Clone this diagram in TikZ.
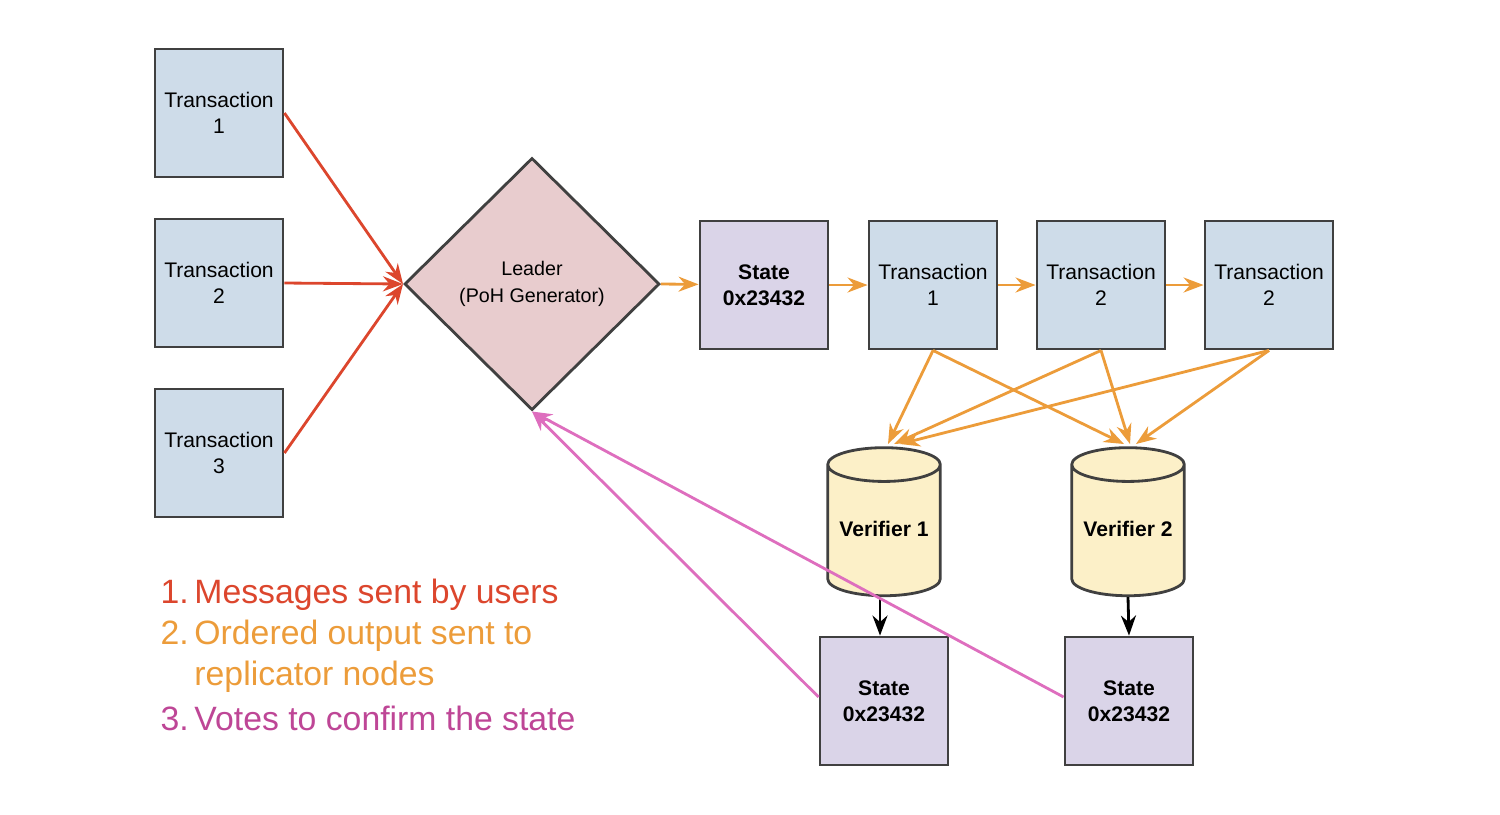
\documentclass[tikz,border=0pt]{standalone}
\usepackage{fontspec}
\setmainfont{Liberation Sans}
\usetikzlibrary{shapes.geometric,arrows.meta,positioning}
\definecolor{txblue}{RGB}{206,220,233}
\definecolor{stpurple}{RGB}{218,212,232}
\definecolor{leadpink}{RGB}{232,204,206}
\definecolor{verifyellow}{RGB}{252,240,200}
\definecolor{redline}{RGB}{220,70,45}
\definecolor{orangeline}{RGB}{236,156,58}
\definecolor{pinkline}{RGB}{222,110,190}
\definecolor{votepink}{RGB}{190,70,150}
\tikzset{
    box/.style={draw=black!75, thick, minimum size=1.28cm, inner sep=0pt, align=center, font=\fontsize{6}{7.5}\selectfont},
    tx/.style={box, fill=txblue},
    st/.style={box, fill=stpurple, font=\fontsize{6}{7.5}\selectfont\bfseries},
    verif/.style={draw=black!75, thick, cylinder, shape border rotate=90, aspect=0.3, fill=verifyellow, minimum height=1.48cm, minimum width=1.12cm, font=\fontsize{6}{7.5}\selectfont\bfseries},
    user/.style={draw=redline, thick, -{Stealth[length=2mm]}},
    order/.style={draw=orangeline, thick, -{Stealth[length=2mm]}},
    vote/.style={draw=pinkline, thick, -{Stealth[length=2mm]}},
    legend/.style={anchor=west, inner sep=0pt, align=left, font=\fontsize{9.6}{11.6}\selectfont}}
\begin{document}
\begin{tikzpicture}[x=0.01cm, y=-0.01cm]
\useasboundingbox (0,0) rectangle (1500,814);
% senders
\node[tx] (t1) at (219,113) {Transaction\\1};
\node[tx] (t2) at (219,283) {Transaction\\2};
\node[tx] (t3) at (219,453) {Transaction\\3};
\node[diamond, draw=black!75, thick, fill=leadpink, minimum width=2.55cm, minimum height=2.52cm, inner sep=0pt, align=center, font=\fontsize{5.6}{7.5}\selectfont] (lead) at (532,284) {Leader\\(PoH Generator)};
% ordered chain
\node[st] (s0) at (764,285) {State\\0x23432};
\node[tx] (c1) at (933,285) {Transaction\\1};
\node[tx] (c2) at (1101,285) {Transaction\\2};
\node[tx] (c3) at (1269,285) {Transaction\\2};
% verifiers
\node[verif] (v1) at (884,536) {\raisebox{1.5mm}{Verifier 1}};
\node[verif] (v2) at (1128,536) {\raisebox{1.5mm}{Verifier 2}};
\node[st] (s1) at (884,701) {State\\0x23432};
\node[st] (s2) at (1129,701) {State\\0x23432};
\coordinate (v1top) at ([shift={(0,-92)}]v1.center);
\coordinate (v2top) at ([shift={(0,-92)}]v2.center);

\draw[user] (t1.east) -- (lead.west);
\draw[user] (t2.east) -- (lead.west);
\draw[user] (t3.east) -- (lead.west);
\draw[order] (lead.east) -- (s0);
\draw[order] (s0) -- (c1);
\draw[order] (c1) -- (c2);
\draw[order] (c2) -- (c3);
\draw[order] (c1.south) -- ([shift={(4,0)}]v1top);
\draw[order] (c1.south) -- ([shift={(-4,0)}]v2top);
\draw[order] (c2.south) -- ([shift={(10,0)}]v1top);
\draw[order] (c2.south) -- ([shift={(2,0)}]v2top);
\draw[order] (c3.south) -- ([shift={(16,0)}]v1top);
\draw[order] (c3.south) -- ([shift={(8,0)}]v2top);
\draw[thick, -{Stealth[length=2mm]}] ([shift={(-4,0)}]v1.south) -- ([shift={(-4,0)}]s1.north);
\draw[thick, -{Stealth[length=2mm]}] (v2.south) -- (s2.north);
\draw[vote] ([shift={(0,-4)}]s1.west) -- (lead.south);
\draw[vote] ([shift={(0,-4)}]s2.west) -- (lead.south);

% legend
\node[legend, text=redline] (l1) at (160,595) {1.\,Messages sent by users};
\node[legend, text=orangeline] (l2) at (160,656) {2.\,Ordered output sent to\\\phantom{2.\,}replicator nodes};
\node[legend, text=votepink] (l3) at (160,718) {3.\,Votes to confirm the state};
\end{tikzpicture}
\end{document}
